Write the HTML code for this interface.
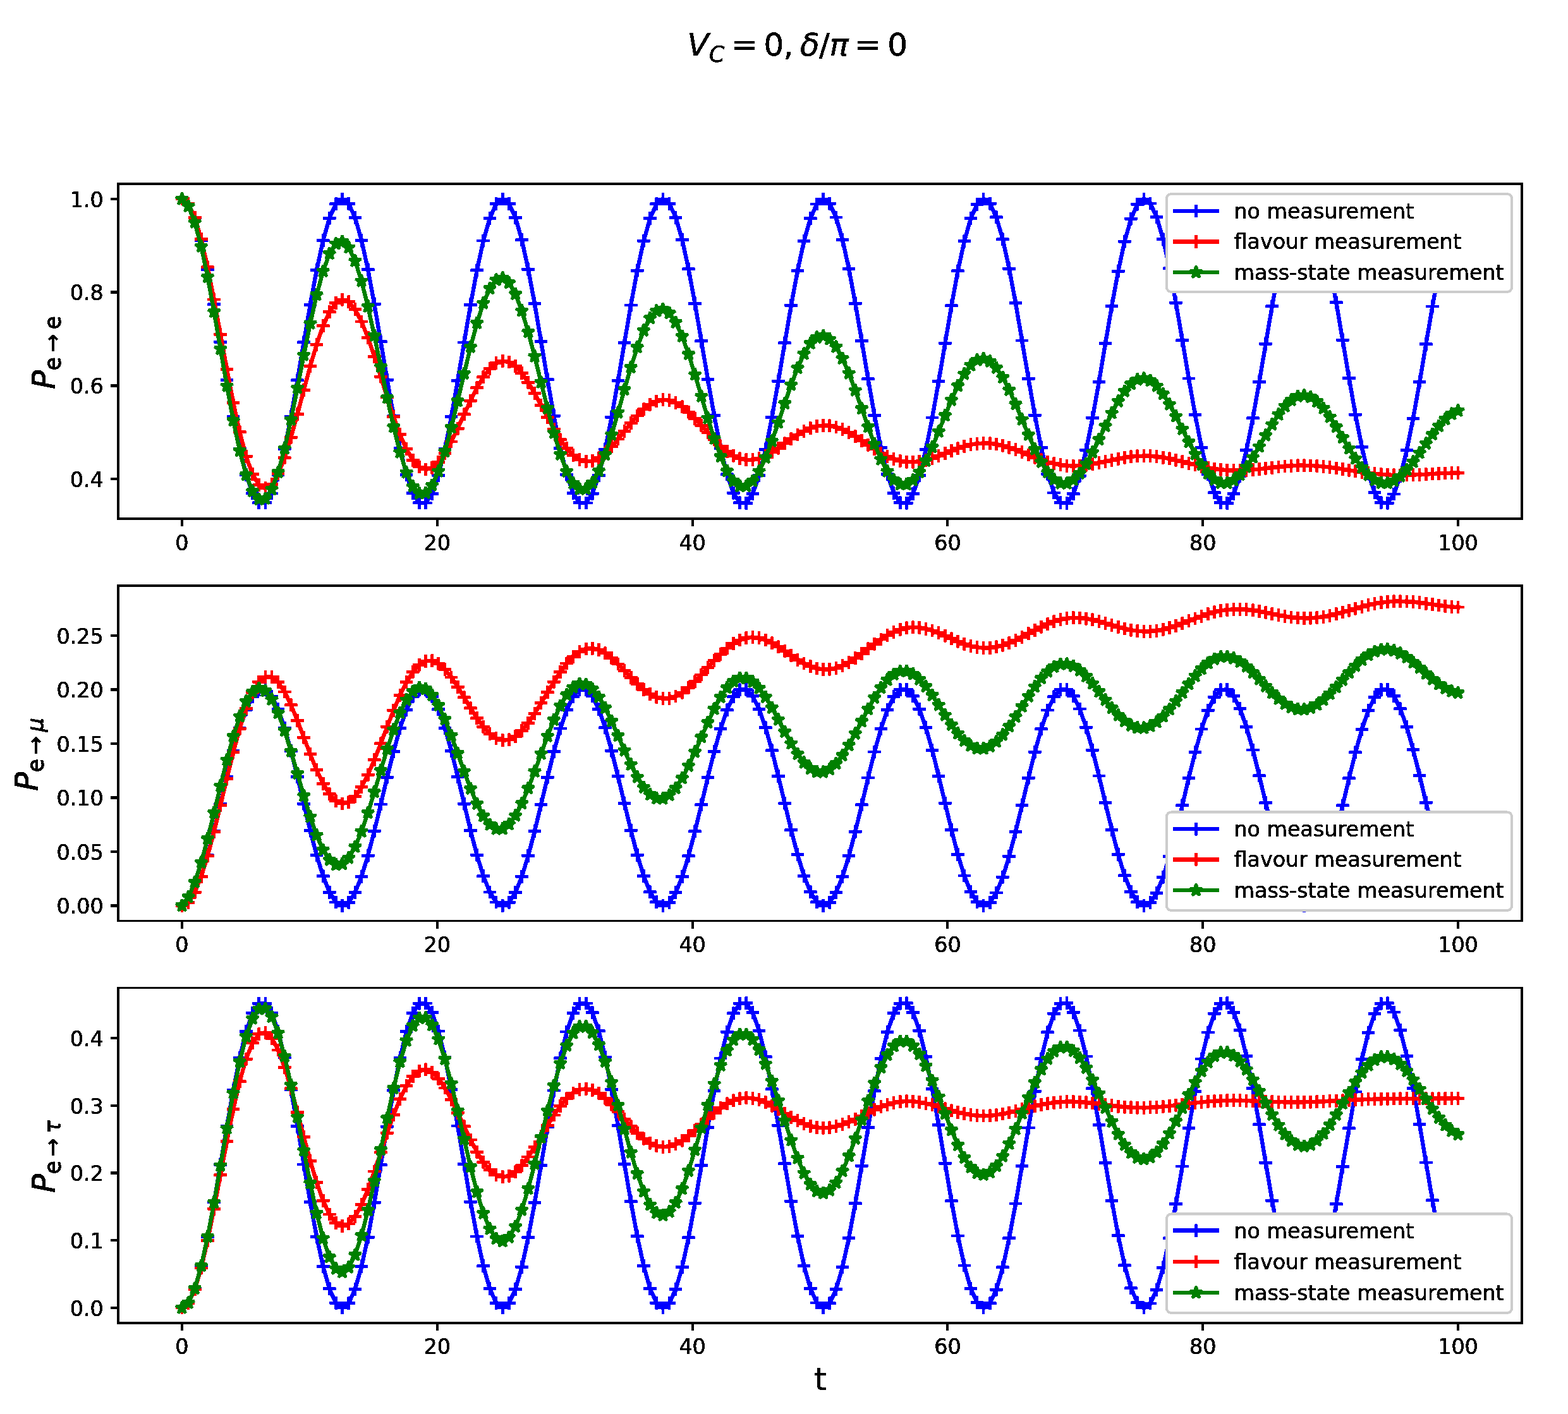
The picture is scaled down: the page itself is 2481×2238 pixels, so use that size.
<!DOCTYPE html>
<html lang="en"><head><meta charset="utf-8"><title>Neutrino oscillation probabilities</title>
<style>html,body{margin:0;padding:0;background:#fff}body{width:2481px;height:2238px}svg{display:block}text{font-family:"DejaVu Sans","Liberation Sans",sans-serif;fill:#000}.t{font-size:33.33px}.i{font-style:italic}</style></head><body>
<svg width="2481" height="2238" viewBox="0 0 2481 2238" role="img" aria-label="Neutrino oscillation probabilities versus t">
<defs>
<marker id="mb" markerUnits="userSpaceOnUse" markerWidth="24" markerHeight="24" refX="12" refY="12" viewBox="0 0 24 24" overflow="visible"><path d="M1.7 12H22.3M12 1.7V22.3" stroke="#0000ff" stroke-width="4.6" fill="none"/></marker>
<marker id="mr" markerUnits="userSpaceOnUse" markerWidth="24" markerHeight="24" refX="12" refY="12" viewBox="0 0 24 24" overflow="visible"><path d="M1.7 12H22.3M12 1.7V22.3" stroke="#ff0000" stroke-width="4.6" fill="none"/></marker>
<marker id="mg" markerUnits="userSpaceOnUse" markerWidth="28" markerHeight="28" refX="0" refY="0" viewBox="-14 -14 28 28" overflow="visible"><polygon points="0.00,-10.00 -2.25,-3.09 -9.51,-3.09 -3.63,1.18 -5.88,8.09 -0.00,3.82 5.88,8.09 3.63,1.18 9.51,-3.09 2.25,-3.09" fill="#008000" stroke="#008000" stroke-width="4.2" stroke-linejoin="bevel"/></marker>
<filter id="ts" x="0" y="0" width="2481" height="2238" filterUnits="userSpaceOnUse" color-interpolation-filters="sRGB"><feComponentTransfer><feFuncA type="discrete" tableValues="0 1"/></feComponentTransfer></filter>
<filter id="tt" x="0" y="0" width="2481" height="2238" filterUnits="userSpaceOnUse" color-interpolation-filters="sRGB"><feComponentTransfer><feFuncA type="discrete" tableValues="0 1 1 1 1 1 1 1"/></feComponentTransfer></filter>
</defs>
<rect width="2481" height="2238" fill="#fff"/>
<g filter="url(#ts)" fill="none" stroke="#0000ff" stroke-width="6.4" stroke-linejoin="round" stroke-linecap="square" marker-start="url(#mb)" marker-mid="url(#mb)" marker-end="url(#mb)">
<polyline points="287.9,315 298.1,322.6 308.2,344.8 318.4,380.4 328.5,427 338.7,481.7 348.8,541.1 359,601.5 369.1,659.1 379.3,710.2 389.4,751.6 399.6,780.8 409.7,795.9 419.9,795.9 430,781 440.1,751.9 450.3,710.5 460.4,659.5 470.6,601.9 480.7,541.6 490.9,482.1 501,427.4 511.2,380.7 521.3,345.1 531.5,322.7 541.6,315 551.8,322.5 561.9,344.6 572,380.1 582.2,426.6 592.3,481.3 602.5,540.7 612.6,601.1 622.8,658.7 632.9,709.8 643.1,751.4 653.2,780.6 663.4,795.8 673.5,796 683.7,781.1 693.8,752.1 703.9,710.8 714.1,659.8 724.2,602.4 734.4,542 744.5,482.5 754.7,427.7 764.8,381 775,345.3 785.1,322.8 795.3,315 805.4,322.4 815.6,344.4 825.7,379.8 835.8,426.3 846,480.9 856.1,540.3 866.3,600.7 876.4,658.3 886.6,709.5 896.7,751.1 906.9,780.5 917,795.8 927.2,796 937.3,781.3 947.5,752.4 957.6,711.2 967.7,660.2 977.9,602.8 988,542.4 998.2,483 1008.3,428.1 1018.5,381.3 1028.6,345.5 1038.8,322.9 1048.9,315 1059.1,322.3 1069.2,344.2 1079.4,379.5 1089.5,425.9 1099.6,480.5 1109.8,539.9 1119.9,600.3 1130.1,657.9 1140.2,709.2 1150.4,750.9 1160.5,780.3 1170.7,795.7 1180.8,796.1 1191,781.4 1201.1,752.6 1211.3,711.5 1221.4,660.6 1231.5,603.2 1241.7,542.9 1251.8,483.4 1262,428.5 1272.1,381.6 1282.3,345.7 1292.4,323 1302.6,315 1312.7,322.2 1322.9,344 1333,379.2 1343.2,425.6 1353.3,480.1 1363.5,539.4 1373.6,599.8 1383.7,657.5 1393.9,708.8 1404,750.6 1414.2,780.2 1424.3,795.7 1434.5,796.2 1444.6,781.6 1454.8,752.9 1464.9,711.8 1475.1,661 1485.2,603.6 1495.4,543.3 1505.5,483.8 1515.6,428.8 1525.8,381.9 1535.9,345.9 1546.1,323.1 1556.2,315 1566.4,322.1 1576.5,343.8 1586.7,378.9 1596.8,425.2 1607,479.7 1617.1,539 1627.3,599.4 1637.4,657.1 1647.5,708.5 1657.7,750.3 1667.8,780 1678,795.6 1688.1,796.2 1698.3,781.7 1708.4,753.1 1718.6,712.1 1728.7,661.4 1738.9,604.1 1749,543.7 1759.2,484.2 1769.3,429.2 1779.4,382.2 1789.6,346.1 1799.7,323.2 1809.9,315 1820,322 1830.2,343.6 1840.3,378.6 1850.5,424.8 1860.6,479.3 1870.8,538.6 1880.9,599 1891.1,656.7 1901.2,708.2 1911.3,750.1 1921.5,779.8 1931.6,795.6 1941.8,796.3 1951.9,781.9 1962.1,753.4 1972.2,712.5 1982.4,661.8 1992.5,604.5 2002.7,544.1 2012.8,484.6 2023,429.5 2033.1,382.5 2043.2,346.3 2053.4,323.3 2063.5,315 2073.7,321.9 2083.8,343.4 2094,378.4 2104.1,424.5 2114.3,478.9 2124.4,538.2 2134.6,598.6 2144.7,656.3 2154.9,707.8 2165,749.8 2175.1,779.7 2185.3,795.5 2195.4,796.3 2205.6,782 2215.7,753.6 2225.9,712.8 2236,662.2 2246.2,604.9 2256.3,544.6 2266.5,485 2276.6,429.9 2286.8,382.8 2296.9,346.5 2307,323.5"/>
<polyline points="287.9,1433.5 298.1,1428.1 308.2,1412.3 318.4,1387 328.5,1353.9 338.7,1315 348.8,1272.7 359,1229.8 369.1,1188.9 379.3,1152.6 389.4,1123.1 399.6,1102.4 409.7,1091.6 419.9,1091.6 430,1102.3 440.1,1122.9 450.3,1152.3 460.4,1188.6 470.6,1229.5 480.7,1272.4 490.9,1314.7 501,1353.6 511.2,1386.8 521.3,1412.1 531.5,1428 541.6,1433.5 551.8,1428.2 561.9,1412.4 572,1387.2 582.2,1354.1 592.3,1315.3 602.5,1273 612.6,1230.1 622.8,1189.2 632.9,1152.8 643.1,1123.3 653.2,1102.5 663.4,1091.7 673.5,1091.6 683.7,1102.1 693.8,1122.8 703.9,1152.1 714.1,1188.3 724.2,1229.2 734.4,1272.1 744.5,1314.4 754.7,1353.4 764.8,1386.6 775,1412 785.1,1428 795.3,1433.5 805.4,1428.3 815.6,1412.6 825.7,1387.4 835.8,1354.4 846,1315.6 856.1,1273.3 866.3,1230.4 876.4,1189.5 886.6,1153 896.7,1123.5 906.9,1102.6 917,1091.7 927.2,1091.5 937.3,1102 947.5,1122.6 957.6,1151.9 967.7,1188.1 977.9,1228.9 988,1271.8 998.2,1314.1 1008.3,1353.1 1018.5,1386.4 1028.6,1411.8 1038.8,1427.9 1048.9,1433.5 1059.1,1428.3 1069.2,1412.7 1079.4,1387.6 1089.5,1354.7 1099.6,1315.8 1109.8,1273.6 1119.9,1230.7 1130.1,1189.7 1140.2,1153.3 1150.4,1123.7 1160.5,1102.7 1170.7,1091.8 1180.8,1091.5 1191,1101.9 1201.1,1122.4 1211.3,1151.6 1221.4,1187.8 1231.5,1228.6 1241.7,1271.5 1251.8,1313.8 1262,1352.8 1272.1,1386.2 1282.3,1411.7 1292.4,1427.8 1302.6,1433.5 1312.7,1428.4 1322.9,1412.9 1333,1387.8 1343.2,1354.9 1353.3,1316.1 1363.5,1273.9 1373.6,1231 1383.7,1190 1393.9,1153.5 1404,1123.8 1414.2,1102.8 1424.3,1091.8 1434.5,1091.5 1444.6,1101.8 1454.8,1122.2 1464.9,1151.4 1475.1,1187.5 1485.2,1228.3 1495.4,1271.2 1505.5,1313.5 1515.6,1352.6 1525.8,1386 1535.9,1411.5 1546.1,1427.7 1556.2,1433.5 1566.4,1428.5 1576.5,1413 1586.7,1388.1 1596.8,1355.2 1607,1316.4 1617.1,1274.3 1627.3,1231.3 1637.4,1190.3 1647.5,1153.8 1657.7,1124 1667.8,1102.9 1678,1091.8 1688.1,1091.4 1698.3,1101.7 1708.4,1122 1718.6,1151.2 1728.7,1187.2 1738.9,1228 1749,1270.9 1759.2,1313.2 1769.3,1352.3 1779.4,1385.8 1789.6,1411.4 1799.7,1427.6 1809.9,1433.5 1820,1428.6 1830.2,1413.2 1840.3,1388.3 1850.5,1355.4 1860.6,1316.7 1870.8,1274.6 1880.9,1231.6 1891.1,1190.6 1901.2,1154 1911.3,1124.2 1921.5,1103.1 1931.6,1091.9 1941.8,1091.4 1951.9,1101.6 1962.1,1121.9 1972.2,1150.9 1982.4,1187 1992.5,1227.7 2002.7,1270.6 2012.8,1312.9 2023,1352.1 2033.1,1385.5 2043.2,1411.2 2053.4,1427.6 2063.5,1433.5 2073.7,1428.6 2083.8,1413.3 2094,1388.5 2104.1,1355.7 2114.3,1317 2124.4,1274.9 2134.6,1231.9 2144.7,1190.8 2154.9,1154.2 2165,1124.4 2175.1,1103.2 2185.3,1091.9 2195.4,1091.3 2205.6,1101.5 2215.7,1121.7 2225.9,1150.7 2236,1186.7 2246.2,1227.4 2256.3,1270.3 2266.5,1312.6 2276.6,1351.8 2286.8,1385.3 2296.9,1411.1 2307,1427.5"/>
<polyline points="287.9,2070 298.1,2062.4 308.2,2040.1 318.4,2004.5 328.5,1957.8 338.7,1902.9 348.8,1843.4 359,1782.9 369.1,1725.2 379.3,1674 389.4,1632.5 399.6,1603.3 409.7,1588.1 419.9,1588.1 430,1603.1 440.1,1632.2 450.3,1673.7 460.4,1724.8 470.6,1782.5 480.7,1843 490.9,1902.5 501,1957.4 511.2,2004.2 521.3,2039.9 531.5,2062.3 541.6,2070 551.8,2062.5 561.9,2040.3 572,2004.8 582.2,1958.1 592.3,1903.3 602.5,1843.8 612.6,1783.3 622.8,1725.6 632.9,1674.4 643.1,1632.7 653.2,1603.4 663.4,1588.2 673.5,1588 683.7,1602.9 693.8,1632 703.9,1673.4 714.1,1724.4 724.2,1782 734.4,1842.5 744.5,1902.1 754.7,1957 764.8,2003.9 775,2039.7 785.1,2062.2 795.3,2070 805.4,2062.6 815.6,2040.5 825.7,2005.1 835.8,1958.5 846,1903.7 856.1,1844.2 866.3,1783.7 876.4,1726 886.6,1674.7 896.7,1633 906.9,1603.6 917,1588.2 927.2,1588 937.3,1602.8 947.5,1631.7 957.6,1673 967.7,1724.1 977.9,1781.6 988,1842.1 998.2,1901.7 1008.3,1956.7 1018.5,2003.6 1028.6,2039.5 1038.8,2062.1 1048.9,2070 1059.1,2062.7 1069.2,2040.7 1079.4,2005.4 1089.5,1958.9 1099.6,1904.2 1109.8,1844.7 1119.9,1784.2 1130.1,1726.4 1140.2,1675 1150.4,1633.3 1160.5,1603.7 1170.7,1588.3 1180.8,1587.9 1191,1602.6 1201.1,1631.5 1211.3,1672.7 1221.4,1723.7 1231.5,1781.2 1241.7,1841.7 1251.8,1901.3 1262,1956.3 1272.1,2003.3 1282.3,2039.3 1292.4,2062 1302.6,2070 1312.7,2062.8 1322.9,2040.9 1333,2005.6 1343.2,1959.2 1353.3,1904.6 1363.5,1845.1 1373.6,1784.6 1383.7,1726.8 1393.9,1675.4 1404,1633.5 1414.2,1603.9 1424.3,1588.4 1434.5,1587.9 1444.6,1602.5 1454.8,1631.2 1464.9,1672.4 1475.1,1723.3 1485.2,1780.8 1495.4,1841.2 1505.5,1900.9 1515.6,1956 1525.8,2003 1535.9,2039.1 1546.1,2061.9 1556.2,2070 1566.4,2062.9 1576.5,2041.1 1586.7,2005.9 1596.8,1959.6 1607,1905 1617.1,1845.5 1627.3,1785 1637.4,1727.2 1647.5,1675.7 1657.7,1633.8 1667.8,1604.1 1678,1588.4 1688.1,1587.8 1698.3,1602.3 1708.4,1631 1718.6,1672 1728.7,1722.9 1738.9,1780.4 1749,1840.8 1759.2,1900.5 1769.3,1955.6 1779.4,2002.7 1789.6,2038.8 1799.7,2061.7 1809.9,2070 1820,2063 1830.2,2041.3 1840.3,2006.2 1850.5,1959.9 1860.6,1905.4 1870.8,1846 1880.9,1785.4 1891.1,1727.6 1901.2,1676 1911.3,1634 1921.5,1604.2 1931.6,1588.5 1941.8,1587.8 1951.9,1602.2 1962.1,1630.7 1972.2,1671.7 1982.4,1722.5 1992.5,1779.9 2002.7,1840.4 2012.8,1900.1 2023,1955.2 2033.1,2002.4 2043.2,2038.6 2053.4,2061.6 2063.5,2070 2073.7,2063.1 2083.8,2041.5 2094,2006.5 2104.1,1960.3 2114.3,1905.8 2124.4,1846.4 2134.6,1785.8 2144.7,1728 2154.9,1676.4 2165,1634.3 2175.1,1604.4 2185.3,1588.5 2195.4,1587.7 2205.6,1602 2215.7,1630.5 2225.9,1671.4 2236,1722.1 2246.2,1779.5 2256.3,1840 2266.5,1899.7 2276.6,1954.9 2286.8,2002.1 2296.9,2038.4 2307,2061.5"/>
</g>
<g filter="url(#ts)" fill="none" stroke="#ff0000" stroke-width="6.4" stroke-linejoin="round" stroke-linecap="square" marker-start="url(#mr)" marker-mid="url(#mr)" marker-end="url(#mr)">
<polyline points="287.9,315 298.1,322.5 308.2,344.2 318.4,378.5 328.5,422.7 338.7,474 348.8,529.1 359,584.5 369.1,637.1 379.3,683.9 389.4,722.3 399.6,750.6 409.7,767.6 419.9,772.8 430,766.6 440.1,749.9 450.3,724.5 460.4,692.2 470.6,655.6 480.7,617.2 490.9,579.6 501,545.1 511.2,515.9 521.3,493.6 531.5,479.5 541.6,474.2 551.8,477.8 561.9,489.7 572,509 582.2,534.4 592.3,564.1 602.5,596.2 612.6,628.7 622.8,659.8 632.9,687.7 643.1,710.8 653.2,728.2 663.4,739 673.5,743 683.7,740.3 693.8,731.4 703.9,717.2 714.1,699 724.2,678.1 734.4,655.9 744.5,634.1 754.7,613.9 764.8,596.7 775,583.4 785.1,574.8 795.3,571.3 805.4,573 815.6,579.6 825.7,590.6 835.8,605.3 846,622.5 856.1,641.3 866.3,660.5 876.4,679 886.6,695.7 896.7,709.7 906.9,720.4 917,727.4 927.2,730.4 937.3,729.4 947.5,724.8 957.6,717.1 967.7,706.9 977.9,695 988,682.3 998.2,669.7 1008.3,658 1018.5,647.9 1028.6,640.1 1038.8,635 1048.9,632.8 1059.1,633.6 1069.2,637.4 1079.4,643.7 1089.5,652.2 1099.6,662.4 1109.8,673.5 1119.9,684.8 1130.1,695.9 1140.2,706 1150.4,714.5 1160.5,721.2 1170.7,725.7 1180.8,727.9 1191,727.8 1201.1,725.5 1211.3,721.4 1221.4,715.8 1231.5,709.1 1241.7,701.9 1251.8,694.7 1262,688 1272.1,682.2 1282.3,677.6 1292.4,674.6 1302.6,673.4 1312.7,673.8 1322.9,676 1333,679.8 1343.2,684.8 1353.3,690.8 1363.5,697.4 1373.6,704.2 1383.7,710.9 1393.9,717 1404,722.3 1414.2,726.5 1424.3,729.5 1434.5,731.1 1444.6,731.3 1454.8,730.3 1464.9,728.2 1475.1,725.2 1485.2,721.5 1495.4,717.5 1505.5,713.5 1515.6,709.7 1525.8,706.4 1535.9,703.8 1546.1,702.1 1556.2,701.4 1566.4,701.7 1576.5,703 1586.7,705.3 1596.8,708.3 1607,711.9 1617.1,715.9 1627.3,720 1637.4,724.1 1647.5,727.9 1657.7,731.2 1667.8,733.9 1678,735.9 1688.1,737.1 1698.3,737.5 1708.4,737.1 1718.6,736.1 1728.7,734.5 1738.9,732.6 1749,730.4 1759.2,728.2 1769.3,726.1 1779.4,724.2 1789.6,722.8 1799.7,721.9 1809.9,721.6 1820,721.8 1830.2,722.7 1840.3,724.1 1850.5,725.9 1860.6,728.2 1870.8,730.6 1880.9,733.2 1891.1,735.7 1901.2,738.1 1911.3,740.2 1921.5,742 1931.6,743.3 1941.8,744.2 1951.9,744.6 1962.1,744.6 1972.2,744.2 1982.4,743.4 1992.5,742.4 2002.7,741.3 2012.8,740.1 2023,739 2033.1,738 2043.2,737.3 2053.4,736.8 2063.5,736.7 2073.7,737 2083.8,737.5 2094,738.4 2104.1,739.6 2114.3,741 2124.4,742.6 2134.6,744.2 2144.7,745.8 2154.9,747.3 2165,748.7 2175.1,749.9 2185.3,750.8 2195.4,751.5 2205.6,751.9 2215.7,752 2225.9,751.9 2236,751.6 2246.2,751.1 2256.3,750.6 2266.5,750 2276.6,749.4 2286.8,749 2296.9,748.6 2307,748.5"/>
<polyline points="287.9,1433.5 298.1,1428.1 308.2,1412.4 318.4,1387.4 328.5,1354.8 338.7,1316.4 348.8,1274.7 359,1232.1 369.1,1190.8 379.3,1153.2 389.4,1121.2 399.6,1096.3 409.7,1079.4 419.9,1071.2 430,1071.5 440.1,1079.8 450.3,1095 460.4,1115.8 470.6,1140.5 480.7,1167.1 490.9,1193.8 501,1218.7 511.2,1240.2 521.3,1256.9 531.5,1267.7 541.6,1272 551.8,1269.6 561.9,1260.7 572,1245.9 582.2,1226.1 592.3,1202.6 602.5,1176.8 612.6,1150.2 622.8,1124.2 632.9,1100.3 643.1,1079.8 653.2,1063.5 663.4,1052.3 673.5,1046.4 683.7,1045.8 693.8,1050.4 703.9,1059.4 714.1,1072 724.2,1087.2 734.4,1103.9 744.5,1120.7 754.7,1136.6 764.8,1150.4 775,1161.3 785.1,1168.5 795.3,1171.7 805.4,1170.7 815.6,1165.4 825.7,1156.4 835.8,1144.1 846,1129.3 856.1,1112.9 866.3,1095.8 876.4,1079.1 886.6,1063.5 896.7,1050 906.9,1039.1 917,1031.3 927.2,1027 937.3,1026.1 947.5,1028.5 957.6,1033.8 967.7,1041.5 977.9,1051 988,1061.5 998.2,1072.2 1008.3,1082.4 1018.5,1091.4 1028.6,1098.6 1038.8,1103.4 1048.9,1105.7 1059.1,1105.2 1069.2,1102 1079.4,1096.2 1089.5,1088.3 1099.6,1078.8 1109.8,1068 1119.9,1056.8 1130.1,1045.6 1140.2,1035.2 1150.4,1026 1160.5,1018.5 1170.7,1013 1180.8,1009.7 1191,1008.7 1201.1,1009.9 1211.3,1013 1221.4,1017.8 1231.5,1023.8 1241.7,1030.5 1251.8,1037.4 1262,1044.1 1272.1,1050 1282.3,1054.8 1292.4,1058 1302.6,1059.6 1312.7,1059.3 1322.9,1057.2 1333,1053.4 1343.2,1048.2 1353.3,1041.7 1363.5,1034.5 1373.6,1026.8 1383.7,1019.2 1393.9,1012 1404,1005.5 1414.2,1000.2 1424.3,996.2 1434.5,993.7 1444.6,992.7 1454.8,993.2 1464.9,995.1 1475.1,998 1485.2,1001.9 1495.4,1006.2 1505.5,1010.8 1515.6,1015.2 1525.8,1019.1 1535.9,1022.3 1546.1,1024.5 1556.2,1025.6 1566.4,1025.4 1576.5,1023.9 1586.7,1021.3 1596.8,1017.7 1607,1013.2 1617.1,1008.1 1627.3,1002.8 1637.4,997.4 1647.5,992.2 1657.7,987.6 1667.8,983.7 1678,980.8 1688.1,978.8 1698.3,977.9 1708.4,978 1718.6,979.1 1728.7,980.9 1738.9,983.4 1749,986.3 1759.2,989.4 1769.3,992.3 1779.4,995 1789.6,997.2 1799.7,998.6 1809.9,999.3 1820,999.2 1830.2,998.1 1840.3,996.2 1850.5,993.6 1860.6,990.4 1870.8,986.8 1880.9,982.9 1891.1,979 1901.2,975.2 1911.3,971.8 1921.5,968.9 1931.6,966.6 1941.8,965.1 1951.9,964.2 1962.1,964.2 1972.2,964.8 1982.4,965.9 1992.5,967.6 2002.7,969.5 2012.8,971.6 2023,973.6 2033.1,975.5 2043.2,977 2053.4,978 2063.5,978.4 2073.7,978.3 2083.8,977.5 2094,976.1 2104.1,974.1 2114.3,971.7 2124.4,969 2134.6,966.2 2144.7,963.2 2154.9,960.4 2165,957.8 2175.1,955.6 2185.3,953.8 2195.4,952.6 2205.6,951.8 2215.7,951.7 2225.9,952 2236,952.7 2246.2,953.8 2256.3,955.2 2266.5,956.6 2276.6,958 2286.8,959.3 2296.9,960.4 2307,961"/>
<polyline points="287.9,2070 298.1,2062.5 308.2,2040.9 318.4,2007 328.5,1963.4 338.7,1913.2 348.8,1859.6 359,1806.1 369.1,1755.8 379.3,1711.7 389.4,1676.1 399.6,1650.7 409.7,1636.7 419.9,1634.3 430,1643.1 440.1,1662 450.3,1689.3 460.4,1722.9 470.6,1760.4 480.7,1799.3 490.9,1837.1 501,1871.4 511.2,1900.2 521.3,1922 531.5,1935.6 541.6,1940.6 551.8,1937 561.9,1925.3 572,1906.6 582.2,1882.2 592.3,1854 602.5,1823.7 612.6,1793.3 622.8,1764.6 632.9,1739.2 643.1,1718.5 653.2,1703.6 663.4,1695 673.5,1692.9 683.7,1697.1 693.8,1707.1 703.9,1722 714.1,1740.4 724.2,1761.2 734.4,1782.8 744.5,1804 754.7,1823.2 764.8,1839.5 775,1851.9 785.1,1859.8 795.3,1862.8 805.4,1861.1 815.6,1854.8 825.7,1844.5 835.8,1831 846,1815.3 856.1,1798.3 866.3,1781.2 876.4,1765 886.6,1750.6 896.7,1738.7 906.9,1730 917,1724.8 927.2,1723.2 937.3,1725.2 947.5,1730.3 957.6,1738.2 967.7,1748.1 977.9,1759.4 988,1771.1 998.2,1782.7 1008.3,1793.3 1018.5,1802.2 1028.6,1809.1 1038.8,1813.4 1048.9,1815.2 1059.1,1814.3 1069.2,1810.9 1079.4,1805.3 1089.5,1797.9 1099.6,1789.2 1109.8,1779.9 1119.9,1770.4 1130.1,1761.4 1140.2,1753.4 1150.4,1746.7 1160.5,1741.7 1170.7,1738.7 1180.8,1737.5 1191,1738.3 1201.1,1740.9 1211.3,1744.9 1221.4,1750.1 1231.5,1755.9 1241.7,1762.1 1251.8,1768.2 1262,1773.8 1272.1,1778.5 1282.3,1782.1 1292.4,1784.4 1302.6,1785.3 1312.7,1784.8 1322.9,1782.9 1333,1779.9 1343.2,1775.9 1353.3,1771.3 1363.5,1766.2 1373.6,1761.1 1383.7,1756.3 1393.9,1751.9 1404,1748.2 1414.2,1745.5 1424.3,1743.7 1434.5,1742.9 1444.6,1743.2 1454.8,1744.4 1464.9,1746.3 1475.1,1748.8 1485.2,1751.7 1495.4,1754.8 1505.5,1757.8 1515.6,1760.5 1525.8,1762.8 1535.9,1764.6 1546.1,1765.7 1556.2,1766 1566.4,1765.7 1576.5,1764.7 1586.7,1763 1596.8,1761 1607,1758.5 1617.1,1755.9 1627.3,1753.3 1637.4,1750.7 1647.5,1748.5 1657.7,1746.6 1667.8,1745.1 1678,1744.1 1688.1,1743.6 1698.3,1743.6 1708.4,1744.1 1718.6,1744.9 1728.7,1746 1738.9,1747.2 1749,1748.6 1759.2,1749.9 1769.3,1751.1 1779.4,1752.1 1789.6,1752.8 1799.7,1753.1 1809.9,1753.2 1820,1752.9 1830.2,1752.3 1840.3,1751.5 1850.5,1750.4 1860.6,1749.2 1870.8,1748 1880.9,1746.7 1891.1,1745.5 1901.2,1744.4 1911.3,1743.4 1921.5,1742.7 1931.6,1742.2 1941.8,1741.9 1951.9,1741.8 1962.1,1741.9 1972.2,1742.1 1982.4,1742.5 1992.5,1742.9 2002.7,1743.3 2012.8,1743.7 2023,1744.1 2033.1,1744.3 2043.2,1744.5 2053.4,1744.5 2063.5,1744.4 2073.7,1744.1 2083.8,1743.8 2094,1743.3 2104.1,1742.8 2114.3,1742.3 2124.4,1741.7 2134.6,1741.2 2144.7,1740.7 2154.9,1740.3 2165,1739.9 2175.1,1739.6 2185.3,1739.3 2195.4,1739.1 2205.6,1739 2215.7,1738.9 2225.9,1738.9 2236,1738.9 2246.2,1738.9 2256.3,1738.8 2266.5,1738.8 2276.6,1738.7 2286.8,1738.6 2296.9,1738.4 2307,1738.2"/>
</g>
<g filter="url(#ts)" fill="none" stroke="#008000" stroke-width="6.4" stroke-linejoin="round" stroke-linecap="square" marker-start="url(#mg)" marker-mid="url(#mg)" marker-end="url(#mg)">
<polyline points="287.9,315 298.1,326.4 308.2,352.1 318.4,390.3 328.5,438.5 338.7,493.7 348.8,552.4 359,610.9 369.1,665.8 379.3,713.6 389.4,751.7 399.6,777.7 409.7,790.4 419.9,789.3 430,774.5 440.1,747.4 450.3,709.9 460.4,664.4 470.6,614.1 480.7,562.2 490.9,512.1 501,466.8 511.2,429.3 521.3,401.7 531.5,385.9 541.6,382.5 551.8,391.9 561.9,413.1 572,444.9 582.2,485.2 592.3,531.3 602.5,580.5 612.6,629.6 622.8,675.7 632.9,715.9 643.1,748 653.2,770.1 663.4,781 673.5,780.3 683.7,768.3 693.8,745.9 703.9,714.6 714.1,676.8 724.2,634.8 734.4,591.4 744.5,549.4 754.7,511.4 764.8,479.9 775,456.7 785.1,443.2 795.3,440.2 805.4,447.8 815.6,465.5 825.7,492 835.8,525.6 846,564.2 856.1,605.3 866.3,646.5 876.4,685.2 886.6,719.1 896.7,746.1 906.9,764.9 917,774.3 927.2,773.9 937.3,764.1 947.5,745.5 957.6,719.6 967.7,688 977.9,652.9 988,616.6 998.2,581.5 1008.3,549.6 1018.5,523.1 1028.6,503.6 1038.8,492.2 1048.9,489.5 1059.1,495.8 1069.2,510.4 1079.4,532.5 1089.5,560.6 1099.6,592.9 1109.8,627.3 1119.9,661.9 1130.1,694.3 1140.2,722.8 1150.4,745.7 1160.5,761.5 1170.7,769.6 1180.8,769.5 1191,761.5 1201.1,746.1 1211.3,724.5 1221.4,698.2 1231.5,668.9 1241.7,638.6 1251.8,609.1 1262,582.5 1272.1,560.2 1282.3,543.8 1292.4,534.1 1302.6,531.8 1312.7,536.9 1322.9,549.1 1333,567.5 1343.2,590.9 1353.3,617.9 1363.5,646.8 1373.6,675.7 1383.7,703 1393.9,727 1404,746.2 1414.2,759.7 1424.3,766.6 1434.5,766.7 1444.6,760.1 1454.8,747.4 1464.9,729.5 1475.1,707.6 1485.2,683.1 1495.4,657.7 1505.5,633.1 1515.6,610.7 1525.8,592 1535.9,578.2 1546.1,570 1556.2,568 1566.4,572.2 1576.5,582.3 1586.7,597.6 1596.8,617.2 1607,639.8 1617.1,664 1627.3,688.3 1637.4,711.2 1647.5,731.4 1657.7,747.6 1667.8,759 1678,764.9 1688.1,765.2 1698.3,759.8 1708.4,749.3 1718.6,734.4 1728.7,716.1 1738.9,695.7 1749,674.5 1759.2,653.9 1769.3,635.1 1779.4,619.4 1789.6,607.8 1799.7,600.9 1809.9,599.1 1820,602.5 1830.2,610.9 1840.3,623.7 1850.5,640.1 1860.6,659 1870.8,679.3 1880.9,699.6 1891.1,718.9 1901.2,735.8 1911.3,749.5 1921.5,759.2 1931.6,764.3 1941.8,764.6 1951.9,760.2 1962.1,751.5 1972.2,739.1 1982.4,723.9 1992.5,706.9 2002.7,689.2 2012.8,671.9 2023,656.2 2033.1,643 2043.2,633.2 2053.4,627.4 2063.5,625.9 2073.7,628.7 2083.8,635.7 2094,646.3 2104.1,660 2114.3,675.8 2124.4,692.8 2134.6,709.9 2144.7,726 2154.9,740.3 2165,751.9 2175.1,760 2185.3,764.4 2195.4,764.8 2205.6,761.2 2215.7,754 2225.9,743.7 2236,731.1 2246.2,716.9 2256.3,702.1 2266.5,687.6 2276.6,674.5 2286.8,663.4 2296.9,655.2 2307,650.2"/>
<polyline points="287.9,1433.5 298.1,1419.8 308.2,1396.5 318.4,1365.2 328.5,1327.7 338.7,1286.5 348.8,1244.1 359,1203 369.1,1165.6 379.3,1134 389.4,1110.1 399.6,1095.1 409.7,1089.6 419.9,1093.8 430,1107.1 440.1,1128.5 450.3,1156.5 460.4,1189.2 470.6,1224.3 480.7,1259.6 490.9,1292.9 501,1322.1 511.2,1345.3 521.3,1361.1 531.5,1368.7 541.6,1367.6 551.8,1357.9 561.9,1340.3 572,1316.1 582.2,1286.5 592.3,1253.7 602.5,1219.4 612.6,1185.8 622.8,1154.9 632.9,1128.4 643.1,1107.9 653.2,1094.5 663.4,1088.7 673.5,1090.7 683.7,1100.3 693.8,1116.6 703.9,1138.5 714.1,1164.3 724.2,1192.5 734.4,1221.1 744.5,1248.3 754.7,1272.3 764.8,1291.7 775,1305.3 785.1,1312.1 795.3,1311.9 805.4,1304.7 815.6,1291 825.7,1271.6 835.8,1247.8 846,1221.1 856.1,1193 866.3,1165.2 876.4,1139.5 886.6,1117.3 896.7,1099.8 906.9,1088 917,1082.5 927.2,1083.4 937.3,1090.6 947.5,1103.3 957.6,1120.7 967.7,1141.6 977.9,1164.5 988,1187.9 998.2,1210.2 1008.3,1230.1 1018.5,1246.3 1028.6,1257.8 1038.8,1263.8 1048.9,1264 1059.1,1258.4 1069.2,1247.4 1079.4,1231.6 1089.5,1212.1 1099.6,1190.1 1109.8,1166.8 1119.9,1143.7 1130.1,1122.2 1140.2,1103.5 1150.4,1088.7 1160.5,1078.5 1170.7,1073.4 1180.8,1073.7 1191,1079.2 1201.1,1089.3 1211.3,1103.4 1221.4,1120.4 1231.5,1139.1 1241.7,1158.4 1251.8,1176.9 1262,1193.4 1272.1,1207 1282.3,1216.6 1292.4,1221.7 1302.6,1222.1 1312.7,1217.6 1322.9,1208.6 1333,1195.6 1343.2,1179.4 1353.3,1161.1 1363.5,1141.8 1373.6,1122.5 1383.7,1104.4 1393.9,1088.7 1404,1076.1 1414.2,1067.3 1424.3,1062.8 1434.5,1062.7 1444.6,1067 1454.8,1075.1 1464.9,1086.6 1475.1,1100.5 1485.2,1116 1495.4,1131.9 1505.5,1147.3 1515.6,1161 1525.8,1172.3 1535.9,1180.3 1546.1,1184.7 1556.2,1185 1566.4,1181.4 1576.5,1173.9 1586.7,1163.2 1596.8,1149.7 1607,1134.5 1617.1,1118.3 1627.3,1102.1 1637.4,1086.9 1647.5,1073.6 1657.7,1062.9 1667.8,1055.4 1678,1051.4 1688.1,1051.2 1698.3,1054.5 1708.4,1061.1 1718.6,1070.5 1728.7,1082 1738.9,1094.7 1749,1107.9 1759.2,1120.7 1769.3,1132.1 1779.4,1141.5 1789.6,1148.2 1799.7,1151.9 1809.9,1152.2 1820,1149.2 1830.2,1143 1840.3,1134 1850.5,1122.8 1860.6,1110 1870.8,1096.4 1880.9,1082.8 1891.1,1070 1901.2,1058.8 1911.3,1049.7 1921.5,1043.3 1931.6,1039.8 1941.8,1039.4 1951.9,1042 1962.1,1047.4 1972.2,1055.1 1982.4,1064.6 1992.5,1075.1 2002.7,1086.1 2012.8,1096.7 2023,1106.2 2033.1,1114 2043.2,1119.6 2053.4,1122.7 2063.5,1123 2073.7,1120.4 2083.8,1115.3 2094,1107.7 2104.1,1098.3 2114.3,1087.6 2124.4,1076.2 2134.6,1064.8 2144.7,1054 2154.9,1044.5 2165,1036.8 2175.1,1031.3 2185.3,1028.3 2195.4,1027.8 2205.6,1029.9 2215.7,1034.2 2225.9,1040.5 2236,1048.4 2246.2,1057.1 2256.3,1066.2 2266.5,1075 2276.6,1082.9 2286.8,1089.4 2296.9,1094.1 2307,1096.6"/>
<polyline points="287.9,2070 298.1,2062.1 308.2,2039.5 318.4,2003.8 328.5,1957.5 338.7,1903.4 348.8,1845 359,1786 369.1,1730.1 379.3,1680.6 389.4,1640.5 399.6,1612.2 409.7,1597.3 419.9,1596.4 430,1609.4 440.1,1635.2 450.3,1672 460.4,1717.3 470.6,1768.1 480.7,1821 490.9,1872.8 501,1920.1 511.2,1959.9 521.3,1989.8 531.5,2008 541.6,2013.5 551.8,2006.1 561.9,1986.3 572,1955.5 582.2,1915.7 592.3,1869.5 602.5,1819.8 612.6,1769.8 622.8,1722.5 632.9,1680.8 643.1,1647.2 653.2,1623.6 663.4,1611.4 673.5,1611.2 683.7,1622.6 693.8,1644.9 703.9,1676.4 714.1,1715 724.2,1758.1 734.4,1803 744.5,1846.8 754.7,1886.6 764.8,1920.2 775,1945.2 785.1,1960.4 795.3,1964.8 805.4,1958.3 815.6,1941.4 825.7,1915.2 835.8,1881.4 846,1842.3 856.1,1800.4 866.3,1758.1 876.4,1718.3 886.6,1683.2 896.7,1655 906.9,1635.2 917,1625.1 927.2,1625 937.3,1634.8 947.5,1653.7 957.6,1680.3 967.7,1713 977.9,1749.4 988,1787.2 998.2,1824.1 1008.3,1857.7 1018.5,1885.9 1028.6,1907 1038.8,1919.8 1048.9,1923.5 1059.1,1917.9 1069.2,1903.6 1079.4,1881.6 1089.5,1853.1 1099.6,1820.2 1109.8,1784.9 1119.9,1749.4 1130.1,1715.9 1140.2,1686.3 1150.4,1662.6 1160.5,1646 1170.7,1637.5 1180.8,1637.4 1191,1645.7 1201.1,1661.6 1211.3,1684 1221.4,1711.4 1231.5,1742 1241.7,1773.9 1251.8,1804.9 1262,1833.2 1272.1,1856.9 1282.3,1874.7 1292.4,1885.4 1302.6,1888.6 1312.7,1884 1322.9,1872 1333,1853.5 1343.2,1829.7 1353.3,1802.1 1363.5,1772.4 1373.6,1742.6 1383.7,1714.4 1393.9,1689.6 1404,1669.6 1414.2,1655.7 1424.3,1648.5 1434.5,1648.4 1444.6,1655.2 1454.8,1668.5 1464.9,1687.3 1475.1,1710.3 1485.2,1736 1495.4,1762.7 1505.5,1788.8 1515.6,1812.5 1525.8,1832.5 1535.9,1847.5 1546.1,1856.6 1556.2,1859.3 1566.4,1855.5 1576.5,1845.6 1586.7,1830.1 1596.8,1810.2 1607,1787.1 1617.1,1762.2 1627.3,1737.2 1637.4,1713.5 1647.5,1692.7 1657.7,1675.9 1667.8,1664.1 1678,1658 1688.1,1657.8 1698.3,1663.5 1708.4,1674.6 1718.6,1690.3 1728.7,1709.5 1738.9,1731.1 1749,1753.5 1759.2,1775.4 1769.3,1795.3 1779.4,1812.1 1789.6,1824.8 1799.7,1832.5 1809.9,1834.8 1820,1831.8 1830.2,1823.5 1840.3,1810.6 1850.5,1794 1860.6,1774.6 1870.8,1753.8 1880.9,1732.8 1891.1,1713 1901.2,1695.5 1911.3,1681.3 1921.5,1671.4 1931.6,1666.2 1941.8,1666 1951.9,1670.7 1962.1,1679.9 1972.2,1693 1982.4,1709.1 1992.5,1727.1 2002.7,1745.9 2012.8,1764.2 2023,1781 2033.1,1795.2 2043.2,1805.8 2053.4,1812.3 2063.5,1814.4 2073.7,1811.9 2083.8,1805.1 2094,1794.3 2104.1,1780.4 2114.3,1764.3 2124.4,1746.8 2134.6,1729.3 2144.7,1712.6 2154.9,1697.9 2165,1686 2175.1,1677.6 2185.3,1673.2 2195.4,1672.9 2205.6,1676.8 2215.7,1684.5 2225.9,1695.4 2236,1708.9 2246.2,1723.9 2256.3,1739.7 2266.5,1755.1 2276.6,1769.1 2286.8,1781 2296.9,1790 2307,1795.6"/>
</g>
<g filter="url(#ts)" fill="#fff" stroke="#ccc" stroke-width="4">
<rect x="1846" y="307" width="546" height="155" rx="7" ry="7"/>
<rect x="1846" y="1285.4" width="546" height="155.6" rx="7" ry="7"/>
<rect x="1846" y="1921.5" width="546" height="156.5" rx="7" ry="7"/>
</g>
<g filter="url(#ts)" stroke="#0000ff" fill="#0000ff">
<path d="M1859.2 334H1925.8" stroke-width="6.4" stroke-linecap="square"/>
<path d="M1882.2 334H1902.8M1892.5 323.7V344.3" stroke-width="4.6"/>
<path d="M1859.2 1312.1H1925.8" stroke-width="6.4" stroke-linecap="square"/>
<path d="M1882.2 1312.1H1902.8M1892.5 1301.8V1322.4" stroke-width="4.6"/>
<path d="M1859.2 1947.8H1925.8" stroke-width="6.4" stroke-linecap="square"/>
<path d="M1882.2 1947.8H1902.8M1892.5 1937.5V1958.1" stroke-width="4.6"/>
</g>
<g filter="url(#ts)" stroke="#ff0000" fill="#ff0000">
<path d="M1859.2 382.5H1925.8" stroke-width="6.4" stroke-linecap="square"/>
<path d="M1882.2 382.5H1902.8M1892.5 372.2V392.8" stroke-width="4.6"/>
<path d="M1859.2 1360.3H1925.8" stroke-width="6.4" stroke-linecap="square"/>
<path d="M1882.2 1360.3H1902.8M1892.5 1350V1370.6" stroke-width="4.6"/>
<path d="M1859.2 1997H1925.8" stroke-width="6.4" stroke-linecap="square"/>
<path d="M1882.2 1997H1902.8M1892.5 1986.7V2007.3" stroke-width="4.6"/>
</g>
<g filter="url(#ts)" stroke="#008000" fill="#008000">
<path d="M1859.2 431H1925.8" stroke-width="6.4" stroke-linecap="square"/>
<polygon transform="translate(1892.5 431)" points="0.00,-10.00 -2.25,-3.09 -9.51,-3.09 -3.63,1.18 -5.88,8.09 -0.00,3.82 5.88,8.09 3.63,1.18 9.51,-3.09 2.25,-3.09" stroke-width="4.2" stroke-linejoin="bevel"/>
<path d="M1859.2 1409H1925.8" stroke-width="6.4" stroke-linecap="square"/>
<polygon transform="translate(1892.5 1409)" points="0.00,-10.00 -2.25,-3.09 -9.51,-3.09 -3.63,1.18 -5.88,8.09 -0.00,3.82 5.88,8.09 3.63,1.18 9.51,-3.09 2.25,-3.09" stroke-width="4.2" stroke-linejoin="bevel"/>
<path d="M1859.2 2046H1925.8" stroke-width="6.4" stroke-linecap="square"/>
<polygon transform="translate(1892.5 2046)" points="0.00,-10.00 -2.25,-3.09 -9.51,-3.09 -3.63,1.18 -5.88,8.09 -0.00,3.82 5.88,8.09 3.63,1.18 9.51,-3.09 2.25,-3.09" stroke-width="4.2" stroke-linejoin="bevel"/>
</g>
<g filter="url(#ts)" fill="none" stroke="#000" stroke-width="4">
<path fill="#000" stroke="none" d="M185 289H2410V823H185ZM189 293V819H2406V293Z"/>
<path d="M288 821v12M692 821v12M1096 821v12M1499 821v12M1903 821v12M2307 821v12M187 758h-12M187 610.5h-12M187 462.5h-12M187 315h-12"/>
<path fill="#000" stroke="none" d="M185 925H2410V1459H185ZM189 929V1456H2406V929Z"/>
<path d="M288 1457.5v12M692 1457.5v12M1096 1457.5v12M1499 1457.5v12M1903 1457.5v12M2307 1457.5v12M187 1433.5h-12M187 1348h-12M187 1262.5h-12M187 1177h-12M187 1091.5h-12M187 1006h-12"/>
<path fill="#000" stroke="none" d="M185 1562H2410V2096H185ZM189 1565V2092H2406V1565Z"/>
<path d="M288 2094v12M692 2094v12M1096 2094v12M1499 2094v12M1903 2094v12M2307 2094v12M187 2070h-12M187 1963h-12M187 1856.5h-12M187 1750h-12M187 1643h-12"/>
</g>
<g filter="url(#tt)">
<text class="t" x="1952.5" y="345.7">no measurement</text>
<text class="t" x="1952.5" y="394.2">flavour measurement</text>
<text class="t" x="1952.5" y="442.7">mass-state measurement</text>
<text class="t" text-anchor="middle" x="287.9" y="870.5">0</text>
<text class="t" text-anchor="middle" x="691.8" y="870.5">20</text>
<text class="t" text-anchor="middle" x="1095.6" y="870.5">40</text>
<text class="t" text-anchor="middle" x="1499.4" y="870.5">60</text>
<text class="t" text-anchor="middle" x="1903.2" y="870.5">80</text>
<text class="t" text-anchor="middle" x="2307" y="870.5">100</text>
<text class="t" text-anchor="end" x="163.7" y="770.7">0.4</text>
<text class="t" text-anchor="end" x="163.7" y="623">0.6</text>
<text class="t" text-anchor="end" x="163.7" y="475.4">0.8</text>
<text class="t" text-anchor="end" x="163.7" y="327.7">1.0</text>
<text transform="translate(86.7 616) rotate(-90)" font-size="50px"><tspan class="i" x="0" y="0">P</tspan><tspan font-size="35px" x="29.5" y="8.8">e</tspan><tspan font-size="35px" x="58.5" y="7.8">→</tspan><tspan font-size="35px" x="94.4" y="8.8">e</tspan></text>
<text class="t" x="1952.5" y="1323.8">no measurement</text>
<text class="t" x="1952.5" y="1372">flavour measurement</text>
<text class="t" x="1952.5" y="1420.7">mass-state measurement</text>
<text class="t" text-anchor="middle" x="287.9" y="1507">0</text>
<text class="t" text-anchor="middle" x="691.8" y="1507">20</text>
<text class="t" text-anchor="middle" x="1095.6" y="1507">40</text>
<text class="t" text-anchor="middle" x="1499.4" y="1507">60</text>
<text class="t" text-anchor="middle" x="1903.2" y="1507">80</text>
<text class="t" text-anchor="middle" x="2307" y="1507">100</text>
<text class="t" text-anchor="end" x="163.7" y="1446.2">0.00</text>
<text class="t" text-anchor="end" x="163.7" y="1360.7">0.05</text>
<text class="t" text-anchor="end" x="163.7" y="1275.2">0.10</text>
<text class="t" text-anchor="end" x="163.7" y="1189.7">0.15</text>
<text class="t" text-anchor="end" x="163.7" y="1104.2">0.20</text>
<text class="t" text-anchor="end" x="163.7" y="1018.7">0.25</text>
<text transform="translate(59.6 1251.9) rotate(-90)" font-size="50px"><tspan class="i" x="0" y="0">P</tspan><tspan font-size="35px" x="29.5" y="8.8">e</tspan><tspan font-size="35px" x="57.6" y="7.8">→</tspan><tspan font-size="35px" class="i" x="93.4" y="8.8">μ</tspan></text>
<text class="t" x="1952.5" y="1959.5">no measurement</text>
<text class="t" x="1952.5" y="2008.7">flavour measurement</text>
<text class="t" x="1952.5" y="2057.7">mass-state measurement</text>
<text class="t" text-anchor="middle" x="287.9" y="2142.6">0</text>
<text class="t" text-anchor="middle" x="691.8" y="2142.6">20</text>
<text class="t" text-anchor="middle" x="1095.6" y="2142.6">40</text>
<text class="t" text-anchor="middle" x="1499.4" y="2142.6">60</text>
<text class="t" text-anchor="middle" x="1903.2" y="2142.6">80</text>
<text class="t" text-anchor="middle" x="2307" y="2142.6">100</text>
<text class="t" text-anchor="end" x="163.7" y="2082.7">0.0</text>
<text class="t" text-anchor="end" x="163.7" y="1976">0.1</text>
<text class="t" text-anchor="end" x="163.7" y="1869.2">0.2</text>
<text class="t" text-anchor="end" x="163.7" y="1762.5">0.3</text>
<text class="t" text-anchor="end" x="163.7" y="1655.7">0.4</text>
<text transform="translate(86.7 1888) rotate(-90)" font-size="50px"><tspan class="i" x="0" y="0">P</tspan><tspan font-size="35px" x="29.5" y="8.8">e</tspan><tspan font-size="35px" x="57.6" y="7.8">→</tspan><tspan font-size="35px" class="i" x="94.1" y="8.8">τ</tspan></text>
<text text-anchor="middle" font-size="50px" x="1298" y="2199.6">t</text>
<text font-size="50px" y="87.7"><tspan class="i" x="1087.5">V</tspan><tspan class="i" font-size="35px" x="1121.9" y="97.5">C</tspan><tspan x="1157" y="87.7">=</tspan><tspan x="1208.5">0</tspan><tspan x="1239.6">,</tspan><tspan class="i" x="1266">δ</tspan><tspan x="1296.1">/</tspan><tspan class="i" x="1312.6">π</tspan><tspan x="1352.1">=</tspan><tspan x="1404.2">0</tspan></text>
</g>
</svg></body></html>
